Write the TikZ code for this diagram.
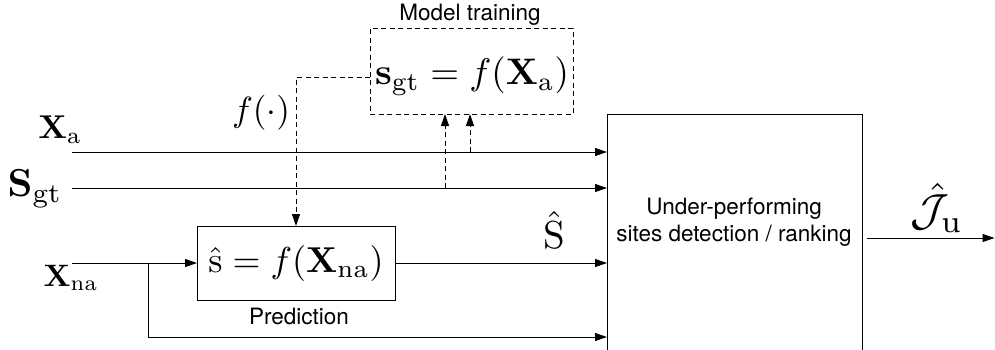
\documentclass[tikz,border=0pt]{standalone}
\usepackage[no-math]{fontspec}
\newfontfamily\heros{TeX Gyre Heros}
\usetikzlibrary{arrows.meta}
\begin{document}
\begin{tikzpicture}[x=1pt,y=-1pt,
  line width=1pt, >={Triangle[length=12pt,width=8pt]},
  box/.style={draw, inner sep=0pt, outer sep=0pt},
  dsh/.style={dash pattern=on 5pt off 3.5pt},
  mth/.style={inner sep=0pt},
  lbl/.style={font=\heros\fontsize{22.5}{27}\selectfont, inner sep=0pt}]
\useasboundingbox (0,0) rectangle (995,349);
\clip (0,0) rectangle (995,349);
% main block
\node[box, minimum width=255pt, minimum height=246pt] (big) at (734.5,237) {};
\node[lbl, align=center] (bigtxt) at (734,222) {Under-performing\\sites detection / ranking};
% model training
\node[box, dsh, minimum width=203pt, minimum height=86pt] (mt) at (471.5,71) {};
\node[mth, scale=3.7] (mtm) at (472,76) {$\mathbf{s}_{\mathrm{gt}} = f(\mathbf{X}_{\mathrm{a}})$};
\node[lbl] (mtl) at (470,15) {Model training};
% prediction
\node[box, minimum width=198pt, minimum height=74pt] (pred) at (296,263) {};
\node[mth, scale=3.6] (predm) at (pred) {$\hat{\mathrm{s}} = f(\mathbf{X}_{\mathrm{na}})$};
\node[lbl] (predl) at (299,316) {Prediction};
% labels
\node[mth, scale=3.3] (lxa) at (60,130) {$\mathbf{X}_{\mathrm{a}}$};
\node[mth, scale=3.9] (lsg) at (35,189) {$\mathbf{S}_{\mathrm{gt}}$};
\node[mth, scale=3.1] (lxn) at (71,278) {$\mathbf{X}_{\mathrm{na}}$};
\node[mth, scale=3.9] (lsh) at (554,230) {$\hat{\mathrm{S}}$};
\node[mth, scale=3.5] (lf) at (261,113) {$f(\cdot)$};
\node[mth, scale=4.5] (lj) at (937,208) {$\hat{\mathcal{J}}_{\mathrm{u}}$};
% coordinates
\coordinate (xa0) at (72,152);
\coordinate (sg0) at (72,188);
\coordinate (xn0) at (72,263);
\coordinate (br) at (148,263);
\coordinate (bot) at (148,337);
\coordinate (tapA) at (470,152);
\coordinate (tapS) at (445,188);
\coordinate (jo0) at (867,238);
\coordinate (jo1) at (994.5,238);
% connectors
\draw[->] (xa0) -- (xa0 -| big.west);
\draw[->] (sg0) -- (sg0 -| big.west);
\draw[->] (xn0) -- (pred.west);
\draw[->] (br) -- (bot) -- (bot -| big.west);
\draw[->] (pred.east) -- (pred.east -| big.west);
\draw[->] (jo0) -- (jo1);
\draw[dsh,->] ([yshift=-6pt]mt.west) -| (pred.north);
\draw[dsh,->] (tapS) -- (tapS |- mt.south);
\draw[dsh,->] (tapA) -- (tapA |- mt.south);
\end{tikzpicture}
\end{document}
